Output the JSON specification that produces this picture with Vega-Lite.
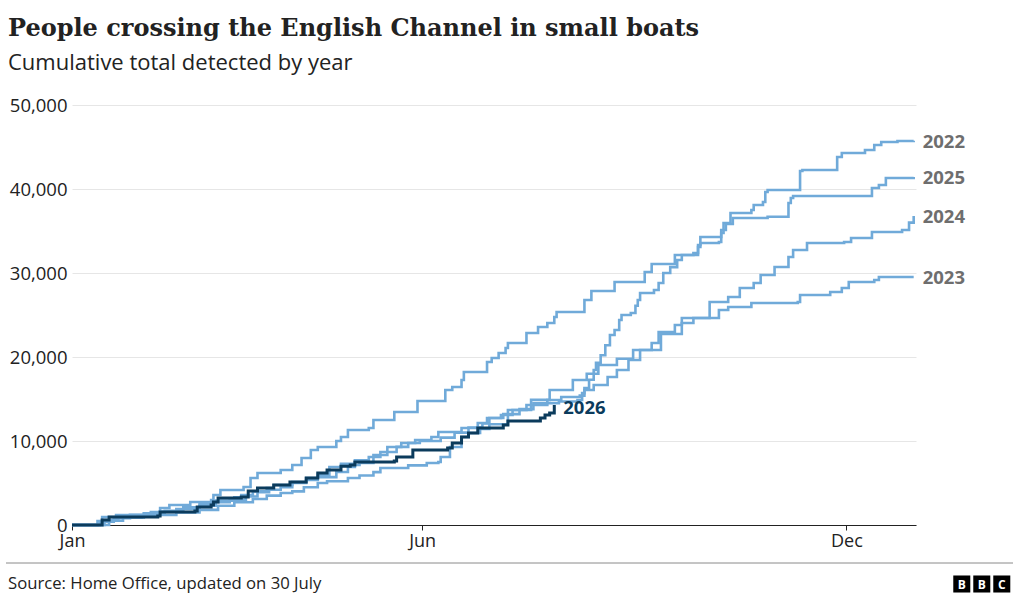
{
  "$schema": "https://vega.github.io/schema/vega-lite/v6.json",
  "width": 844,
  "height": 420,
  "autosize": {"type": "none"},
  "padding": {"left": 72, "top": 105, "right": 104, "bottom": 75},
  "background": "#ffffff",
  "title": {
    "text": "People crossing the English Channel in small boats",
    "subtitle": "Cumulative total detected by year",
    "anchor": "start",
    "frame": "group",
    "font": "DejaVu Serif",
    "fontSize": 24,
    "fontWeight": "bold",
    "color": "#222222",
    "subtitleFont": "Open Sans",
    "subtitleFontSize": 22,
    "subtitleColor": "#222222",
    "subtitlePadding": 12,
    "offset": 22,
    "dx": -64
  },
  "datasets": {
    "crossings": [
      {"year": "2022", "day": 0, "crossings": 0}, {"year": "2022", "day": 10, "crossings": 0}, {"year": "2022", "day": 14, "crossings": 600}, {"year": "2022", "day": 20, "crossings": 900}, {"year": "2022", "day": 31, "crossings": 1340}, {"year": "2022", "day": 38, "crossings": 1600}, {"year": "2022", "day": 45, "crossings": 1900}, {"year": "2022", "day": 55, "crossings": 2300}, {"year": "2022", "day": 62, "crossings": 2700}, {"year": "2022", "day": 68, "crossings": 3000}, {"year": "2022", "day": 75, "crossings": 3400}, {"year": "2022", "day": 80, "crossings": 3900}, {"year": "2022", "day": 85, "crossings": 4200}, {"year": "2022", "day": 90, "crossings": 4500}, {"year": "2022", "day": 95, "crossings": 5000}, {"year": "2022", "day": 101, "crossings": 5600}, {"year": "2022", "day": 106, "crossings": 6000}, {"year": "2022", "day": 111, "crossings": 6900}, {"year": "2022", "day": 116, "crossings": 7300}, {"year": "2022", "day": 122, "crossings": 7700}, {"year": "2022", "day": 128, "crossings": 8100}, {"year": "2022", "day": 133, "crossings": 8690}, {"year": "2022", "day": 140, "crossings": 9300}, {"year": "2022", "day": 145, "crossings": 9760}, {"year": "2022", "day": 150, "crossings": 10000}, {"year": "2022", "day": 159, "crossings": 10400}, {"year": "2022", "day": 165, "crossings": 11000}, {"year": "2022", "day": 171, "crossings": 11600}, {"year": "2022", "day": 177, "crossings": 12100}, {"year": "2022", "day": 180, "crossings": 12740}, {"year": "2022", "day": 186, "crossings": 13200}, {"year": "2022", "day": 193, "crossings": 13800}, {"year": "2022", "day": 199, "crossings": 14500}, {"year": "2022", "day": 210, "crossings": 14700}, {"year": "2022", "day": 218, "crossings": 14880}, {"year": "2022", "day": 220, "crossings": 15700}, {"year": "2022", "day": 221, "crossings": 16310}, {"year": "2022", "day": 223, "crossings": 17300}, {"year": "2022", "day": 225, "crossings": 18450}, {"year": "2022", "day": 226, "crossings": 19300}, {"year": "2022", "day": 228, "crossings": 20200}, {"year": "2022", "day": 230, "crossings": 21400}, {"year": "2022", "day": 232, "crossings": 22620}, {"year": "2022", "day": 234, "crossings": 23210}, {"year": "2022", "day": 236, "crossings": 24400}, {"year": "2022", "day": 237, "crossings": 25000}, {"year": "2022", "day": 241, "crossings": 25240}, {"year": "2022", "day": 243, "crossings": 26100}, {"year": "2022", "day": 244, "crossings": 26790}, {"year": "2022", "day": 245, "crossings": 27620}, {"year": "2022", "day": 251, "crossings": 27980}, {"year": "2022", "day": 253, "crossings": 28810}, {"year": "2022", "day": 255, "crossings": 30000}, {"year": "2022", "day": 258, "crossings": 30700}, {"year": "2022", "day": 261, "crossings": 31550}, {"year": "2022", "day": 263, "crossings": 32140}, {"year": "2022", "day": 268, "crossings": 32380}, {"year": "2022", "day": 270, "crossings": 33100}, {"year": "2022", "day": 271, "crossings": 33570}, {"year": "2022", "day": 279, "crossings": 33690}, {"year": "2022", "day": 280, "crossings": 34760}, {"year": "2022", "day": 281, "crossings": 35950}, {"year": "2022", "day": 284, "crossings": 37140}, {"year": "2022", "day": 293, "crossings": 37500}, {"year": "2022", "day": 294, "crossings": 38100}, {"year": "2022", "day": 298, "crossings": 38450}, {"year": "2022", "day": 299, "crossings": 39640}, {"year": "2022", "day": 300, "crossings": 39880}, {"year": "2022", "day": 314, "crossings": 42140}, {"year": "2022", "day": 315, "crossings": 42260}, {"year": "2022", "day": 330, "crossings": 43810}, {"year": "2022", "day": 332, "crossings": 44290}, {"year": "2022", "day": 342, "crossings": 44640}, {"year": "2022", "day": 346, "crossings": 45240}, {"year": "2022", "day": 349, "crossings": 45600}, {"year": "2022", "day": 356, "crossings": 45710}, {"year": "2022", "day": 363, "crossings": 45740},
      {"year": "2023", "day": 0, "crossings": 0}, {"year": "2023", "day": 12, "crossings": 0}, {"year": "2023", "day": 16, "crossings": 500}, {"year": "2023", "day": 22, "crossings": 900}, {"year": "2023", "day": 30, "crossings": 1100}, {"year": "2023", "day": 37, "crossings": 1200}, {"year": "2023", "day": 45, "crossings": 1500}, {"year": "2023", "day": 55, "crossings": 1800}, {"year": "2023", "day": 63, "crossings": 2300}, {"year": "2023", "day": 70, "crossings": 2700}, {"year": "2023", "day": 78, "crossings": 3100}, {"year": "2023", "day": 84, "crossings": 3500}, {"year": "2023", "day": 90, "crossings": 3810}, {"year": "2023", "day": 95, "crossings": 4000}, {"year": "2023", "day": 100, "crossings": 4500}, {"year": "2023", "day": 106, "crossings": 5000}, {"year": "2023", "day": 110, "crossings": 5200}, {"year": "2023", "day": 119, "crossings": 5600}, {"year": "2023", "day": 124, "crossings": 5900}, {"year": "2023", "day": 130, "crossings": 6300}, {"year": "2023", "day": 133, "crossings": 6790}, {"year": "2023", "day": 145, "crossings": 7100}, {"year": "2023", "day": 153, "crossings": 7380}, {"year": "2023", "day": 158, "crossings": 7500}, {"year": "2023", "day": 159, "crossings": 8100}, {"year": "2023", "day": 163, "crossings": 9290}, {"year": "2023", "day": 168, "crossings": 10480}, {"year": "2023", "day": 171, "crossings": 10950}, {"year": "2023", "day": 176, "crossings": 11430}, {"year": "2023", "day": 180, "crossings": 12000}, {"year": "2023", "day": 188, "crossings": 13690}, {"year": "2023", "day": 198, "crossings": 14900}, {"year": "2023", "day": 206, "crossings": 16070}, {"year": "2023", "day": 216, "crossings": 17260}, {"year": "2023", "day": 222, "crossings": 18000}, {"year": "2023", "day": 227, "crossings": 19050}, {"year": "2023", "day": 235, "crossings": 19800}, {"year": "2023", "day": 242, "crossings": 20830}, {"year": "2023", "day": 254, "crossings": 22740}, {"year": "2023", "day": 263, "crossings": 24640}, {"year": "2023", "day": 279, "crossings": 25600}, {"year": "2023", "day": 283, "crossings": 25950}, {"year": "2023", "day": 293, "crossings": 26430}, {"year": "2023", "day": 313, "crossings": 26550}, {"year": "2023", "day": 314, "crossings": 27380}, {"year": "2023", "day": 327, "crossings": 27740}, {"year": "2023", "day": 332, "crossings": 28210}, {"year": "2023", "day": 335, "crossings": 28930}, {"year": "2023", "day": 346, "crossings": 29170}, {"year": "2023", "day": 348, "crossings": 29520}, {"year": "2023", "day": 363, "crossings": 29520},
      {"year": "2024", "day": 0, "crossings": 0}, {"year": "2024", "day": 9, "crossings": 0}, {"year": "2024", "day": 12, "crossings": 400}, {"year": "2024", "day": 18, "crossings": 800}, {"year": "2024", "day": 25, "crossings": 1200}, {"year": "2024", "day": 31, "crossings": 1400}, {"year": "2024", "day": 40, "crossings": 1700}, {"year": "2024", "day": 48, "crossings": 2100}, {"year": "2024", "day": 55, "crossings": 2500}, {"year": "2024", "day": 62, "crossings": 2900}, {"year": "2024", "day": 70, "crossings": 3300}, {"year": "2024", "day": 73, "crossings": 3570}, {"year": "2024", "day": 78, "crossings": 4000}, {"year": "2024", "day": 84, "crossings": 4400}, {"year": "2024", "day": 87, "crossings": 4760}, {"year": "2024", "day": 95, "crossings": 5100}, {"year": "2024", "day": 101, "crossings": 5360}, {"year": "2024", "day": 106, "crossings": 5700}, {"year": "2024", "day": 114, "crossings": 6310}, {"year": "2024", "day": 119, "crossings": 6900}, {"year": "2024", "day": 122, "crossings": 7140}, {"year": "2024", "day": 124, "crossings": 7380}, {"year": "2024", "day": 130, "crossings": 8330}, {"year": "2024", "day": 136, "crossings": 9290}, {"year": "2024", "day": 142, "crossings": 9760}, {"year": "2024", "day": 148, "crossings": 10120}, {"year": "2024", "day": 155, "crossings": 10480}, {"year": "2024", "day": 158, "crossings": 11070}, {"year": "2024", "day": 168, "crossings": 11550}, {"year": "2024", "day": 175, "crossings": 12140}, {"year": "2024", "day": 179, "crossings": 12740}, {"year": "2024", "day": 185, "crossings": 13100}, {"year": "2024", "day": 190, "crossings": 13690}, {"year": "2024", "day": 196, "crossings": 14290}, {"year": "2024", "day": 205, "crossings": 14880}, {"year": "2024", "day": 211, "crossings": 15240}, {"year": "2024", "day": 219, "crossings": 15400}, {"year": "2024", "day": 221, "crossings": 16070}, {"year": "2024", "day": 225, "crossings": 16670}, {"year": "2024", "day": 231, "crossings": 17620}, {"year": "2024", "day": 235, "crossings": 18450}, {"year": "2024", "day": 240, "crossings": 19640}, {"year": "2024", "day": 245, "crossings": 20830}, {"year": "2024", "day": 250, "crossings": 21670}, {"year": "2024", "day": 253, "crossings": 22980}, {"year": "2024", "day": 260, "crossings": 23810}, {"year": "2024", "day": 263, "crossings": 24050}, {"year": "2024", "day": 268, "crossings": 24640}, {"year": "2024", "day": 275, "crossings": 26550}, {"year": "2024", "day": 283, "crossings": 27140}, {"year": "2024", "day": 288, "crossings": 28210}, {"year": "2024", "day": 294, "crossings": 28810}, {"year": "2024", "day": 297, "crossings": 29760}, {"year": "2024", "day": 303, "crossings": 30710}, {"year": "2024", "day": 309, "crossings": 31900}, {"year": "2024", "day": 311, "crossings": 32740}, {"year": "2024", "day": 317, "crossings": 33570}, {"year": "2024", "day": 333, "crossings": 33690}, {"year": "2024", "day": 336, "crossings": 34170}, {"year": "2024", "day": 345, "crossings": 34880}, {"year": "2024", "day": 358, "crossings": 35120}, {"year": "2024", "day": 361, "crossings": 36000}, {"year": "2024", "day": 363, "crossings": 36790},
      {"year": "2025", "day": 0, "crossings": 0}, {"year": "2025", "day": 8, "crossings": 0}, {"year": "2025", "day": 11, "crossings": 480}, {"year": "2025", "day": 13, "crossings": 950}, {"year": "2025", "day": 19, "crossings": 1190}, {"year": "2025", "day": 34, "crossings": 1550}, {"year": "2025", "day": 38, "crossings": 2020}, {"year": "2025", "day": 42, "crossings": 2380}, {"year": "2025", "day": 51, "crossings": 2740}, {"year": "2025", "day": 60, "crossings": 2980}, {"year": "2025", "day": 61, "crossings": 3570}, {"year": "2025", "day": 64, "crossings": 4170}, {"year": "2025", "day": 74, "crossings": 4520}, {"year": "2025", "day": 77, "crossings": 5600}, {"year": "2025", "day": 80, "crossings": 6190}, {"year": "2025", "day": 90, "crossings": 6550}, {"year": "2025", "day": 95, "crossings": 7140}, {"year": "2025", "day": 99, "crossings": 7980}, {"year": "2025", "day": 103, "crossings": 8930}, {"year": "2025", "day": 106, "crossings": 9290}, {"year": "2025", "day": 114, "crossings": 10000}, {"year": "2025", "day": 116, "crossings": 10480}, {"year": "2025", "day": 119, "crossings": 11310}, {"year": "2025", "day": 128, "crossings": 11550}, {"year": "2025", "day": 130, "crossings": 12500}, {"year": "2025", "day": 139, "crossings": 13450}, {"year": "2025", "day": 149, "crossings": 14760}, {"year": "2025", "day": 161, "crossings": 16070}, {"year": "2025", "day": 164, "crossings": 16430}, {"year": "2025", "day": 168, "crossings": 17260}, {"year": "2025", "day": 169, "crossings": 18210}, {"year": "2025", "day": 179, "crossings": 19400}, {"year": "2025", "day": 181, "crossings": 19880}, {"year": "2025", "day": 184, "crossings": 20480}, {"year": "2025", "day": 187, "crossings": 21070}, {"year": "2025", "day": 188, "crossings": 21670}, {"year": "2025", "day": 196, "crossings": 22860}, {"year": "2025", "day": 201, "crossings": 23570}, {"year": "2025", "day": 205, "crossings": 24050}, {"year": "2025", "day": 208, "crossings": 24760}, {"year": "2025", "day": 209, "crossings": 25360}, {"year": "2025", "day": 221, "crossings": 26790}, {"year": "2025", "day": 224, "crossings": 27860}, {"year": "2025", "day": 234, "crossings": 28930}, {"year": "2025", "day": 247, "crossings": 30120}, {"year": "2025", "day": 250, "crossings": 31070}, {"year": "2025", "day": 260, "crossings": 32140}, {"year": "2025", "day": 270, "crossings": 33330}, {"year": "2025", "day": 271, "crossings": 34290}, {"year": "2025", "day": 280, "crossings": 35120}, {"year": "2025", "day": 282, "crossings": 35830}, {"year": "2025", "day": 285, "crossings": 36550}, {"year": "2025", "day": 300, "crossings": 36700}, {"year": "2025", "day": 309, "crossings": 38330}, {"year": "2025", "day": 310, "crossings": 38930}, {"year": "2025", "day": 311, "crossings": 39170}, {"year": "2025", "day": 345, "crossings": 40120}, {"year": "2025", "day": 348, "crossings": 40480}, {"year": "2025", "day": 351, "crossings": 41310}, {"year": "2025", "day": 363, "crossings": 41430},
      {"year": "2026", "day": 0, "crossings": 0}, {"year": "2026", "day": 11, "crossings": 0}, {"year": "2026", "day": 13, "crossings": 600}, {"year": "2026", "day": 16, "crossings": 950}, {"year": "2026", "day": 37, "crossings": 1070}, {"year": "2026", "day": 38, "crossings": 1550}, {"year": "2026", "day": 53, "crossings": 1670}, {"year": "2026", "day": 54, "crossings": 2140}, {"year": "2026", "day": 60, "crossings": 2380}, {"year": "2026", "day": 61, "crossings": 2740}, {"year": "2026", "day": 63, "crossings": 3210}, {"year": "2026", "day": 73, "crossings": 3330}, {"year": "2026", "day": 76, "crossings": 4050}, {"year": "2026", "day": 80, "crossings": 4400}, {"year": "2026", "day": 87, "crossings": 4760}, {"year": "2026", "day": 94, "crossings": 5120}, {"year": "2026", "day": 101, "crossings": 5600}, {"year": "2026", "day": 106, "crossings": 6190}, {"year": "2026", "day": 110, "crossings": 6550}, {"year": "2026", "day": 116, "crossings": 7000}, {"year": "2026", "day": 120, "crossings": 7140}, {"year": "2026", "day": 122, "crossings": 7500}, {"year": "2026", "day": 139, "crossings": 7620}, {"year": "2026", "day": 140, "crossings": 8100}, {"year": "2026", "day": 147, "crossings": 8930}, {"year": "2026", "day": 162, "crossings": 9170}, {"year": "2026", "day": 164, "crossings": 9760}, {"year": "2026", "day": 168, "crossings": 10480}, {"year": "2026", "day": 171, "crossings": 10950}, {"year": "2026", "day": 175, "crossings": 11550}, {"year": "2026", "day": 186, "crossings": 11900}, {"year": "2026", "day": 188, "crossings": 12380}, {"year": "2026", "day": 202, "crossings": 12740}, {"year": "2026", "day": 204, "crossings": 13090}, {"year": "2026", "day": 206, "crossings": 13330}, {"year": "2026", "day": 208, "crossings": 14300}
    ]
  },
  "layer": [
    {
      "data": {"name": "crossings"},
      "layer": [
        {
          "transform": [{"filter": "datum.year !== '2026'"}],
          "mark": {"type": "line", "interpolate": "step-after", "color": "#70aad9", "strokeWidth": 2.6},
          "encoding": {
            "x": {
              "field": "day", "type": "quantitative",
              "scale": {"domain": [0, 364], "nice": false, "zero": false},
              "axis": {
                "values": [0, 151, 334],
                "labelExpr": "datum.value == 0 ? 'Jan' : datum.value == 151 ? 'Jun' : 'Dec'",
                "labelFlush": false,
                "grid": false,
                "title": null,
                "domainColor": "#222222",
                "tickColor": "#222222",
                "tickSize": 5,
                "labelPadding": 2,
                "labelFont": "Open Sans",
                "labelFontSize": 18,
                "labelColor": "#222222"
              }
            },
            "y": {
              "field": "crossings", "type": "quantitative",
              "scale": {"domain": [0, 50000], "nice": false},
              "axis": {
                "values": [0, 10000, 20000, 30000, 40000, 50000],
                "format": ",.0f",
                "grid": true,
                "gridColor": "#e6e6e6",
                "domain": false,
                "ticks": false,
                "title": null,
                "labelPadding": 5,
                "labelFont": "Open Sans",
                "labelFontSize": 18.5,
                "labelColor": "#222222"
              }
            },
            "detail": {"field": "year", "type": "nominal"}
          }
        },
        {
          "transform": [{"filter": "datum.year === '2026'"}],
          "mark": {"type": "line", "interpolate": "step-after", "color": "#0b3b5c", "strokeWidth": 3},
          "encoding": {
            "x": {"field": "day", "type": "quantitative"},
            "y": {"field": "crossings", "type": "quantitative"}
          }
        },
        {
          "transform": [
            {"window": [{"op": "row_number", "as": "rank"}], "groupby": ["year"], "sort": [{"field": "day", "order": "descending"}]},
            {"filter": "datum.rank === 1 && datum.year !== '2026'"}
          ],
          "mark": {"type": "text", "align": "left", "baseline": "middle", "dx": 9, "dy": 1, "font": "Open Sans", "fontSize": 18.5, "fontWeight": "bold", "color": "#6e6e6e"},
          "encoding": {
            "x": {"field": "day", "type": "quantitative"},
            "y": {"field": "crossings", "type": "quantitative"},
            "text": {"field": "year"}
          }
        },
        {
          "transform": [
            {"window": [{"op": "row_number", "as": "rank"}], "groupby": ["year"], "sort": [{"field": "day", "order": "descending"}]},
            {"filter": "datum.rank === 1 && datum.year === '2026'"}
          ],
          "mark": {"type": "text", "align": "left", "baseline": "middle", "dx": 9, "dy": 3, "font": "Open Sans", "fontSize": 18.5, "fontWeight": "bold", "color": "#0b3b5c"},
          "encoding": {
            "x": {"field": "day", "type": "quantitative"},
            "y": {"field": "crossings", "type": "quantitative"},
            "text": {"field": "year"}
          }
        }
      ]
    },
    {
      "data": {"values": [
        {"part": "source", "label": "Source: Home Office, updated on 30 July", "n": 0},
        {"part": "logo", "label": "B", "n": 1},
        {"part": "logo", "label": "B", "n": 2},
        {"part": "logo", "label": "C", "n": 3}
      ]},
      "layer": [
        {
          "transform": [{"filter": "datum.part === 'source'"}],
          "mark": {"type": "rule", "color": "#8a8a8a", "strokeWidth": 1},
          "encoding": {
            "x": {"datum": 0, "type": "quantitative", "scale": {"domain": [0, 1], "range": [-66, 941]}, "axis": null},
            "x2": {"datum": 1},
            "y": {"datum": 0, "type": "quantitative", "scale": {"domain": [0, 1], "range": [458, 488]}, "axis": null}
          }
        },
        {
          "transform": [{"filter": "datum.part === 'source'"}],
          "mark": {"type": "text", "align": "left", "baseline": "middle", "dx": 2, "font": "Open Sans", "fontSize": 16.7, "color": "#222222"},
          "encoding": {
            "x": {"datum": 0, "type": "quantitative"},
            "y": {"datum": 0.7, "type": "quantitative"},
            "text": {"field": "label"}
          }
        },
        {
          "transform": [{"filter": "datum.part === 'logo'"}],
          "mark": {"type": "square", "size": 290, "color": "#000000", "opacity": 1},
          "encoding": {
            "x": {"datum": 0.969, "type": "quantitative"},
            "xOffset": {"field": "n", "type": "quantitative", "scale": {"domain": [1, 3], "range": [-20, 20]}},
            "y": {"datum": 0.7, "type": "quantitative"}
          }
        },
        {
          "transform": [{"filter": "datum.part === 'logo'"}],
          "mark": {"type": "text", "align": "center", "baseline": "middle", "dy": 1, "font": "Open Sans", "fontSize": 12, "fontWeight": "bold", "color": "#ffffff"},
          "encoding": {
            "x": {"datum": 0.969, "type": "quantitative"},
            "xOffset": {"field": "n", "type": "quantitative", "scale": {"domain": [1, 3], "range": [-20, 20]}},
            "y": {"datum": 0.7, "type": "quantitative"},
            "text": {"field": "label"}
          }
        }
      ]
    }
  ],
  "resolve": {"scale": {"x": "independent", "y": "independent"}},
  "config": {"view": {"stroke": null}}
}
